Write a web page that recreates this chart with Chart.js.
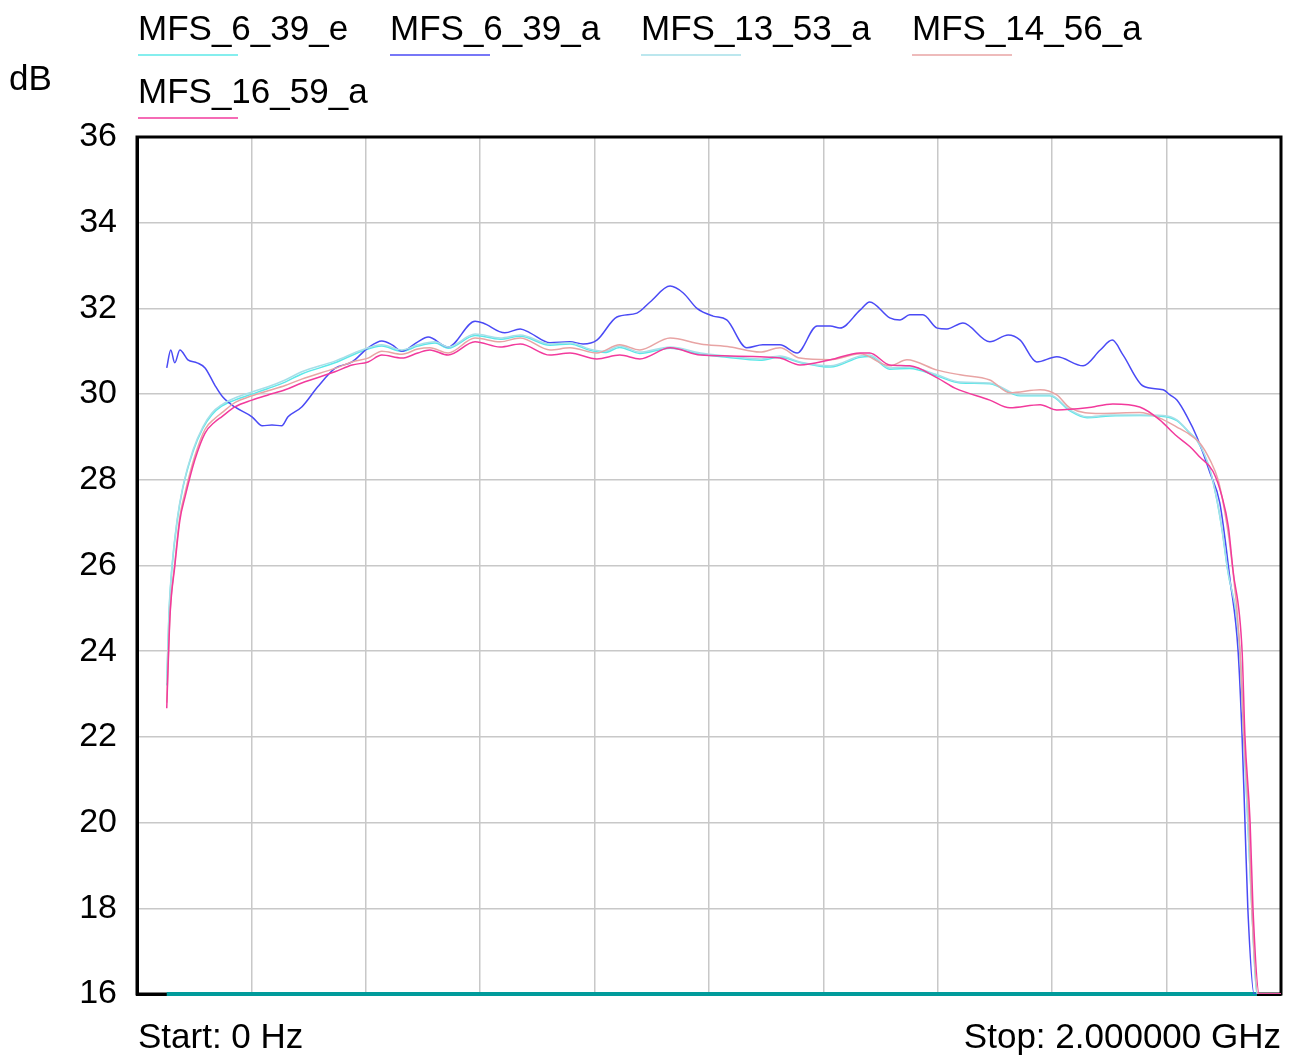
<!DOCTYPE html>
<html>
<head>
<meta charset="utf-8">
<script src="https://cdn.jsdelivr.net/npm/chart.js@4/dist/chart.umd.min.js"></script>
<style>
  body { margin: 0; background: #fff; }
  canvas { display: block; }
</style>
</head>
<body>
<canvas id="chart" width="1296" height="1057"></canvas>
<script>
// frequency in GHz, gain in dB
const seriesNames = ['MFS_6_39_e', 'MFS_6_39_a', 'MFS_13_53_a', 'MFS_14_56_a', 'MFS_16_59_a'];
const yTicks = [16, 18, 20, 22, 24, 26, 28, 30, 32, 34, 36];

const freqE639 = [0.052, 0.056, 0.061, 0.070, 0.080, 0.098, 0.115, 0.131, 0.148, 0.171, 0.201, 0.229, 0.259, 0.288, 0.346, 0.393, 0.428, 0.463, 0.491, 0.521, 0.544, 0.591, 0.635, 0.670, 0.722, 0.757, 0.792, 0.818, 0.844, 0.879, 0.932, 0.985, 1.031, 1.089, 1.124, 1.159, 1.212, 1.264, 1.281, 1.316, 1.351, 1.399, 1.439, 1.491, 1.544, 1.596, 1.631, 1.661, 1.701, 1.753, 1.794, 1.818, 1.841, 1.853, 1.876, 1.888, 1.897, 1.906, 1.928, 1.935, 1.942, 1.949, 1.958, 2.0];
const dbE639 =   [23.20, 24.90, 25.92, 27.02, 27.80, 28.66, 29.20, 29.52, 29.72, 29.86, 30.00, 30.13, 30.28, 30.47, 30.73, 31.00, 31.12, 31.00, 31.12, 31.19, 31.07, 31.37, 31.28, 31.35, 31.14, 31.17, 31.02, 30.97, 31.09, 30.95, 31.07, 30.93, 30.86, 30.79, 30.86, 30.74, 30.63, 30.86, 30.88, 30.58, 30.60, 30.42, 30.26, 30.24, 29.96, 29.96, 29.61, 29.45, 29.49, 29.50, 29.48, 29.38, 29.08, 28.92, 28.22, 27.52, 26.82, 25.95, 24.00, 22.00, 20.00, 18.00, 16.00, 16.00];

const freqA639 = [0.052, 0.059, 0.066, 0.075, 0.089, 0.105, 0.119, 0.136, 0.150, 0.171, 0.201, 0.219, 0.236, 0.253, 0.264, 0.288, 0.316, 0.346, 0.376, 0.404, 0.428, 0.446, 0.463, 0.491, 0.509, 0.544, 0.591, 0.605, 0.643, 0.670, 0.687, 0.722, 0.757, 0.780, 0.804, 0.839, 0.874, 0.897, 0.932, 0.955, 0.979, 1.007, 1.031, 1.066, 1.094, 1.124, 1.154, 1.189, 1.212, 1.229, 1.264, 1.281, 1.316, 1.334, 1.351, 1.374, 1.399, 1.416, 1.444, 1.491, 1.523, 1.544, 1.573, 1.608, 1.654, 1.684, 1.705, 1.724, 1.759, 1.794, 1.806, 1.818, 1.836, 1.853, 1.876, 1.893, 1.911, 1.925, 1.932, 1.937, 1.942, 1.953, 2.0];
const dbA639 =   [30.61, 31.03, 30.73, 31.03, 30.80, 30.73, 30.61, 30.21, 29.93, 29.70, 29.47, 29.26, 29.28, 29.26, 29.47, 29.70, 30.17, 30.60, 30.75, 31.08, 31.24, 31.15, 31.00, 31.22, 31.33, 31.10, 31.70, 31.66, 31.43, 31.52, 31.43, 31.20, 31.22, 31.17, 31.26, 31.80, 31.89, 32.15, 32.52, 32.36, 32.00, 31.82, 31.73, 31.08, 31.15, 31.15, 30.96, 31.59, 31.59, 31.54, 31.96, 32.15, 31.78, 31.73, 31.85, 31.85, 31.54, 31.52, 31.66, 31.22, 31.38, 31.26, 30.75, 30.87, 30.66, 31.03, 31.26, 30.91, 30.19, 30.10, 29.98, 29.86, 29.47, 29.00, 28.16, 27.46, 25.66, 24.00, 22.00, 20.00, 18.00, 16.00, 16.00];

const freqA1353 = [0.052, 0.056, 0.061, 0.070, 0.080, 0.098, 0.115, 0.131, 0.148, 0.171, 0.201, 0.229, 0.259, 0.288, 0.346, 0.393, 0.428, 0.463, 0.491, 0.521, 0.544, 0.591, 0.635, 0.670, 0.722, 0.757, 0.792, 0.818, 0.844, 0.879, 0.932, 0.985, 1.031, 1.089, 1.124, 1.159, 1.212, 1.264, 1.281, 1.316, 1.351, 1.399, 1.439, 1.491, 1.544, 1.596, 1.631, 1.661, 1.701, 1.753, 1.794, 1.818, 1.841, 1.853, 1.876, 1.888, 1.897, 1.906, 1.928, 1.935, 1.942, 1.949, 1.958, 2.0];
const dbA1353 =   [23.26, 24.96, 25.97, 27.06, 27.83, 28.70, 29.23, 29.56, 29.75, 29.91, 30.05, 30.17, 30.33, 30.52, 30.77, 31.03, 31.15, 31.03, 31.15, 31.22, 31.10, 31.40, 31.31, 31.38, 31.17, 31.20, 31.05, 31.00, 31.12, 30.98, 31.10, 30.96, 30.89, 30.82, 30.89, 30.75, 30.66, 30.89, 30.91, 30.61, 30.63, 30.45, 30.28, 30.26, 29.98, 29.98, 29.63, 29.47, 29.51, 29.51, 29.50, 29.40, 29.09, 28.93, 28.23, 27.53, 26.83, 25.97, 24.00, 22.00, 20.00, 18.00, 16.00, 16.00];

const freqA1456 = [0.052, 0.054, 0.058, 0.066, 0.075, 0.084, 0.101, 0.119, 0.136, 0.148, 0.171, 0.201, 0.229, 0.259, 0.288, 0.346, 0.376, 0.404, 0.428, 0.463, 0.491, 0.512, 0.544, 0.591, 0.635, 0.670, 0.722, 0.757, 0.804, 0.844, 0.879, 0.932, 0.985, 1.037, 1.089, 1.124, 1.159, 1.212, 1.264, 1.316, 1.346, 1.399, 1.439, 1.491, 1.526, 1.579, 1.608, 1.631, 1.684, 1.753, 1.788, 1.818, 1.841, 1.858, 1.876, 1.890, 1.902, 1.911, 1.928, 1.935, 1.944, 1.949, 1.960, 2.0];
const dbA1456 =   [22.80, 23.60, 24.95, 26.05, 27.15, 27.70, 28.55, 29.18, 29.43, 29.56, 29.80, 29.96, 30.08, 30.20, 30.35, 30.60, 30.75, 30.84, 31.00, 30.93, 31.05, 31.08, 30.96, 31.31, 31.22, 31.31, 31.03, 31.08, 30.96, 31.15, 31.03, 31.31, 31.17, 31.10, 30.98, 31.08, 30.84, 30.80, 30.94, 30.66, 30.80, 30.56, 30.45, 30.33, 30.03, 30.10, 29.98, 29.68, 29.55, 29.57, 29.44, 29.23, 29.05, 28.86, 28.46, 28.00, 27.23, 26.43, 24.10, 22.00, 20.00, 18.00, 16.00, 16.00];

const freqA1659 = [0.052, 0.054, 0.058, 0.066, 0.075, 0.084, 0.101, 0.119, 0.136, 0.148, 0.171, 0.201, 0.229, 0.259, 0.288, 0.346, 0.376, 0.404, 0.428, 0.463, 0.491, 0.512, 0.544, 0.591, 0.635, 0.670, 0.722, 0.757, 0.804, 0.844, 0.879, 0.932, 0.985, 1.037, 1.089, 1.124, 1.159, 1.212, 1.264, 1.281, 1.316, 1.351, 1.399, 1.430, 1.491, 1.526, 1.579, 1.608, 1.661, 1.706, 1.753, 1.788, 1.815, 1.841, 1.858, 1.881, 1.897, 1.908, 1.916, 1.932, 1.937, 1.946, 1.951, 1.962, 2.0];
const dbA1659 =   [22.67, 23.49, 24.89, 25.97, 27.06, 27.60, 28.46, 29.09, 29.35, 29.47, 29.70, 29.86, 29.98, 30.10, 30.26, 30.52, 30.68, 30.75, 30.91, 30.84, 30.96, 31.03, 30.91, 31.22, 31.10, 31.17, 30.91, 30.96, 30.82, 30.91, 30.82, 31.08, 30.91, 30.89, 30.87, 30.84, 30.68, 30.80, 30.96, 30.96, 30.68, 30.66, 30.38, 30.14, 29.86, 29.68, 29.75, 29.63, 29.68, 29.77, 29.70, 29.40, 29.05, 28.77, 28.53, 28.20, 27.60, 26.90, 25.90, 24.00, 22.00, 20.00, 18.00, 16.00, 16.00];

// trace clamped at the bottom of the screen
const floorFreq = [0.052, 1.958];
const floorDb = [16, 16];

const colors = ['#5ce8e8', '#4a4af5', '#a6dfe8', '#e8a4a4', '#f23a9c'];

function pts(fx, fy) {
  return fx.map((f, i) => ({ x: f, y: fy[i] }));
}

const font = 'Arial, "Liberation Sans", sans-serif';

const frame = {
  id: 'frame',
  beforeDatasetsDraw(chart) {
    const { ctx, chartArea: a } = chart;
    ctx.save();
    ctx.strokeStyle = '#000';
    ctx.lineWidth = 3;
    ctx.strokeRect(a.left, a.top, a.right - a.left, a.bottom - a.top);
    ctx.restore();
  },
  afterDraw(chart) {
    const ctx = chart.ctx;
    ctx.save();
    ctx.fillStyle = '#000';
    ctx.font = '35px ' + font;
    ctx.textBaseline = 'alphabetic';
    ctx.textAlign = 'left';
    const legendPos = [[138, 40], [390, 40], [641, 40], [912, 40], [138, 103]];
    seriesNames.forEach((name, i) => {
      const [x, y] = legendPos[i];
      ctx.fillStyle = '#000';
      ctx.fillText(name, x, y);
      ctx.strokeStyle = colors[i];
      ctx.lineWidth = 1.5;
      ctx.beginPath();
      ctx.moveTo(x, y + 15);
      ctx.lineTo(x + 100, y + 15);
      ctx.stroke();
    });
    ctx.fillStyle = '#000';
    ctx.fillText('dB', 9, 90);
    ctx.fillText('Start: 0 Hz', 138, 1048);
    ctx.textAlign = 'right';
    ctx.fillText('Stop: 2.000000 GHz', 1281, 1048);
    ctx.restore();
  }
};

const ds = [
  { data: pts(freqA1659, dbA1659), color: colors[4], order: 1 },
  { data: pts(freqA1456, dbA1456), color: colors[3], order: 2 },
  { data: pts(freqA1353, dbA1353), color: colors[2], order: 3 },
  { data: pts(freqA639, dbA639), color: colors[1], order: 4 },
  { data: pts(freqE639, dbE639), color: colors[0], order: 5 }
].map(d => ({
  data: d.data,
  order: d.order,
  borderColor: d.color,
  borderWidth: 1.5,
  pointRadius: 0,
  cubicInterpolationMode: 'monotone',
  fill: false
}));

ds.push({
  data: pts(floorFreq, floorDb),
  order: 6,
  borderColor: '#009b9b',
  borderWidth: 4,
  pointRadius: 0,
  fill: false,
  clip: 4
});

new Chart(document.getElementById('chart'), {
  type: 'line',
  data: { datasets: ds },
  plugins: [frame],
  options: {
    responsive: false,
    animation: false,
    layout: { padding: { top: 137, right: 15, left: 0, bottom: 0 } },
    plugins: { legend: { display: false }, tooltip: { enabled: false } },
    scales: {
      x: {
        type: 'linear',
        min: 0,
        max: 2,
        ticks: { display: false, stepSize: 0.2 },
        grid: { color: '#c8c8c8', lineWidth: 1.5, drawTicks: false },
        border: { color: '#000', width: 3 },
        afterFit(scale) { scale.height = 63; }
      },
      y: {
        min: 16,
        max: 36,
        afterBuildTicks(scale) { scale.ticks = yTicks.map(v => ({ value: v })); },
        ticks: { color: '#000', font: { size: 34, family: font }, padding: 20 },
        grid: { color: '#c8c8c8', lineWidth: 1.5, drawTicks: false },
        border: { color: '#000', width: 3 },
        afterFit(scale) { scale.width = 137; }
      }
    }
  }
});
</script>
</body>
</html>
